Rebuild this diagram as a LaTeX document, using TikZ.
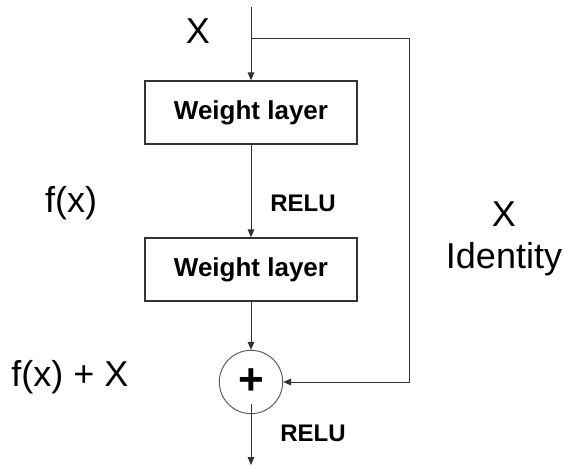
\documentclass[tikz,border=0pt]{standalone}
\usepackage{fontspec}
\setmainfont{Liberation Sans}
\usetikzlibrary{arrows.meta, positioning}
\definecolor{mydark}{HTML}{333333}
\definecolor{mygray}{HTML}{555555}

\begin{document}
\begin{tikzpicture}[x=0.75pt, y=-0.75pt,
  layer/.style={draw=mydark, line width=1pt, minimum width=159pt, minimum height=47.25pt,
    font=\fontsize{19.5}{23}\selectfont\bfseries, align=center},
  sumnode/.style={circle, draw=mygray, line width=0.7pt, minimum size=47.5pt, inner sep=0pt,
    font=\fontsize{33}{36}\selectfont\bfseries},
  lbl/.style={font=\fontsize{27}{32}\selectfont, align=center},
  act/.style={font=\fontsize{18}{21}\selectfont\bfseries},
  arr/.style={-{Triangle[length=6pt, width=5pt]}, line width=0.75pt, mydark}
]
\useasboundingbox (0,0) rectangle (564,470);
% main path
\coordinate (in) at (251,7);
\coordinate (split) at (251,39);
\coordinate (turn) at (409,39);
\node[layer] (w1) at (251,112.5) {Weight layer};
\node[layer] (w2) at (251,269.5) {Weight layer};
\node[sumnode] (sum) at (251,382) {+};
\coordinate (out) at (251,465);
\draw[arr] (in) -- (w1);
\draw[arr] (w1) -- (w2);
\draw[arr] (w2) -- (sum);
\draw[arr] ([yshift=7.5pt]sum.south) -- (out);
% shortcut
\draw[arr] (split) -- (turn) |- (sum);
% labels
\node[lbl] (xin) at (198,31) {X};
\node[lbl] (fx) at (71,203) {f(x)};
\node[lbl] (fxx) at (70,377) {f(x) + X};
\node[lbl] (ident) at (504,239) {X\\Identity};
\node[act] (relu1) at (303,203) {RELU};
\node[act] (relu2) at (313,433) {RELU};
\end{tikzpicture}
\end{document}
